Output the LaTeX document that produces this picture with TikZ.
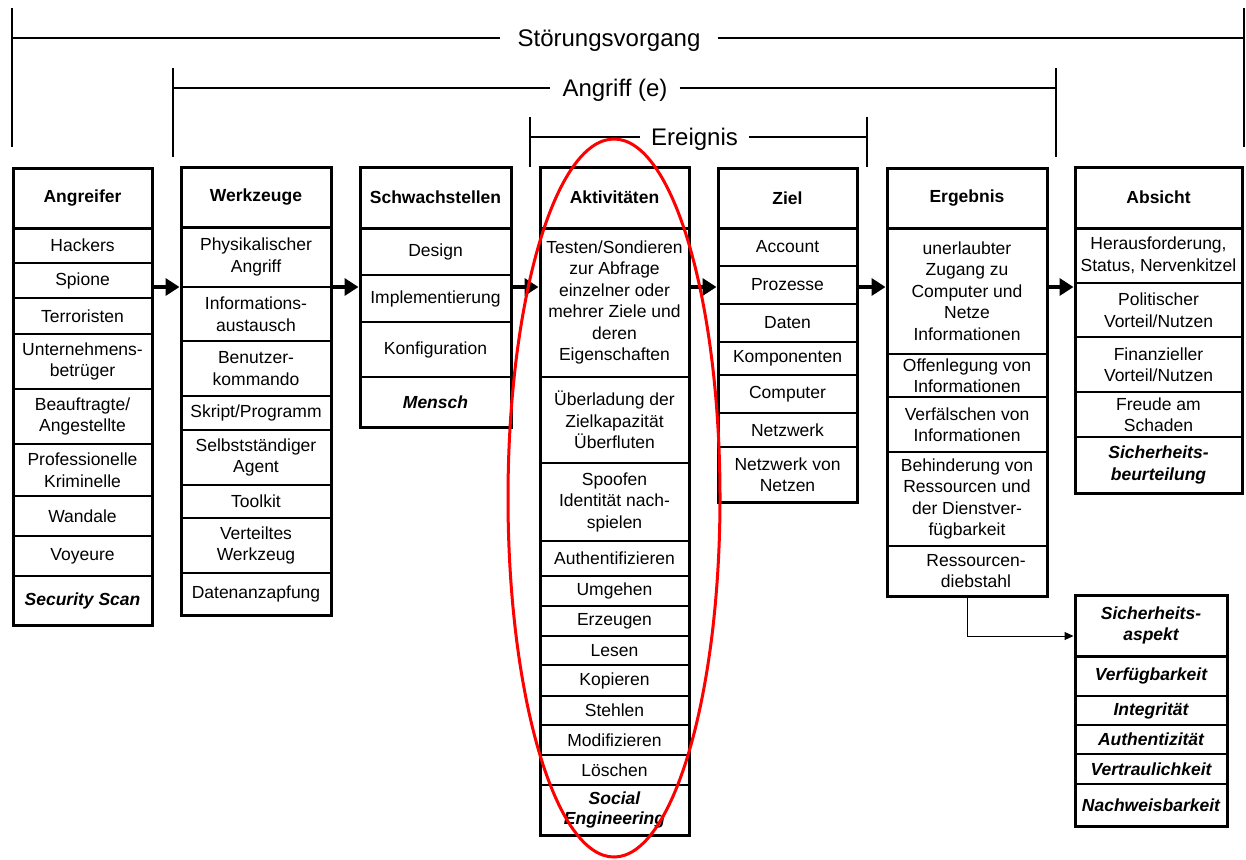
\documentclass[tikz,border=0pt]{standalone}
\usepackage{fontspec}
\setmainfont{Liberation Sans}
\usetikzlibrary{arrows.meta}
\tikzset{
  cellbox/.style={draw, line width=1.5pt, inner xsep=1pt, inner ysep=0pt, align=center,
    font=\fontsize{17.5pt}{21.5pt}\selectfont},
  headbox/.style={cellbox, line width=3pt, font=\fontsize{17.5pt}{21.5pt}\selectfont\bfseries},
  bibox/.style={cellbox, font=\fontsize{17.5pt}{21.5pt}\selectfont\bfseries\itshape},
  biheadbox/.style={headbox, font=\fontsize{17.5pt}{21.5pt}\selectfont\bfseries\itshape},
  colframe/.style={draw, line width=3pt, inner sep=0pt},
  bigarrow/.style={line width=4pt, -{Triangle[length=14pt,width=17pt]}},
  smallarrow/.style={line width=1pt, -{Triangle[length=9pt,width=8pt]}},
  bracketline/.style={line width=1.2pt},
  toplabel/.style={inner ysep=0pt, anchor=base, font=\fontsize{24pt}{28pt}\selectfont},
}
% style, name, width, x-center, top, bottom, text
\newcommand{\mkcell}[7]{\node[#1, minimum width=#3pt, minimum height={(#6-#5)*1pt}] (#2) at (#4,{(#5+#6)/2}) {#7};}
\newcommand{\mkframe}[5]{\node[colframe, minimum width=#2pt, minimum height={(#5-#4)*1pt}] (#1) at (#3,{(#4+#5)/2}) {};}
\begin{document}
\begin{tikzpicture}[x=1pt,y=-1pt]
\useasboundingbox (0,0) rectangle (1246,859);

% ---------- top brackets ----------
\node[toplabel, inner xsep=17pt] (stoer) at (609,46.5) {Störungsvorgang};
\coordinate (stL) at (12,38); \coordinate (stR) at (1244,38);
\coordinate (stLt) at (12,8); \coordinate (stLb) at (12,147);
\coordinate (stRt) at (1244,8); \coordinate (stRb) at (1244,147);
\draw[bracketline] (stL) -- (stoer.west |- stL);
\draw[bracketline] (stoer.east |- stR) -- (stR);
\draw[bracketline] (stLt) -- (stLb);
\draw[bracketline] (stRt) -- (stRb);

\node[toplabel, inner xsep=12pt] (angr) at (615,96.5) {Angriff (e)};
\coordinate (anL) at (173,88); \coordinate (anR) at (1056,88);
\coordinate (anLt) at (173,68); \coordinate (anLb) at (173,157);
\coordinate (anRt) at (1056,68); \coordinate (anRb) at (1056,157);
\draw[bracketline] (anL) -- (angr.west |- anL);
\draw[bracketline] (angr.east |- anR) -- (anR);
\draw[bracketline] (anLt) -- (anLb);
\draw[bracketline] (anRt) -- (anRb);

\node[toplabel, inner xsep=11pt] (ereig) at (694.5,145.5) {Ereignis};
\coordinate (erL) at (530,137); \coordinate (erR) at (867,137);
\coordinate (erLt) at (530,117); \coordinate (erLb) at (530,167);
\coordinate (erRt) at (867,117); \coordinate (erRb) at (867,167);
\draw[bracketline] (erL) -- (ereig.west |- erL);
\draw[bracketline] (ereig.east |- erR) -- (erR);
\draw[bracketline] (erLt) -- (erLb);
\draw[bracketline] (erRt) -- (erRb);

% ---------- Angreifer ----------
\mkcell{headbox}{a0}{139}{82.5}{168}{228}{Angreifer}
\mkcell{cellbox}{a1}{139}{82.5}{228}{263}{Hackers}
\mkcell{cellbox}{a2}{139}{82.5}{263}{298}{Spione}
\mkcell{cellbox}{a3}{139}{82.5}{298}{334}{Terroristen}
\mkcell{cellbox}{a4}{139}{82.5}{334}{389}{Unternehmens-\\betrüger}
\mkcell{cellbox}{a5}{139}{82.5}{389}{444}{Beauftragte/\\Angestellte}
\mkcell{cellbox}{a6}{139}{82.5}{444}{496}{Professionelle\\Kriminelle}
\mkcell{cellbox}{a7}{139}{82.5}{496}{536}{Wandale}
\mkcell{cellbox}{a8}{139}{82.5}{536}{576}{Voyeure}
\mkcell{bibox}{a9}{139}{82.5}{576}{625}{Security Scan}
\mkframe{colA}{139}{82.5}{168}{625}

% ---------- Werkzeuge ----------
\mkcell{headbox}{b0}{150}{256}{167}{227}{Werkzeuge}
\mkcell{cellbox}{b1}{150}{256}{227}{287}{Physikalischer\\Angriff}
\mkcell{cellbox}{b2}{150}{256}{287}{341}{Informations-\\austausch}
\mkcell{cellbox}{b3}{150}{256}{341}{396}{Benutzer-\\kommando}
\mkcell{cellbox}{b4}{150}{256}{396}{430}{Skript/Programm}
\mkcell{cellbox}{b5}{150}{256}{430}{485}{Selbstständiger\\Agent}
\mkcell{cellbox}{b6}{150}{256}{485}{518}{Toolkit}
\mkcell{cellbox}{b7}{150}{256}{518}{573}{Verteiltes\\Werkzeug}
\mkcell{cellbox}{b8}{150}{256}{573}{615}{Datenanzapfung}
\mkframe{colB}{150}{256}{167}{615}

% ---------- Schwachstellen ----------
\mkcell{headbox}{c0}{151}{435.5}{167}{228}{Schwachstellen}
\mkcell{cellbox}{c1}{151}{435.5}{228}{275}{Design}
\mkcell{cellbox}{c2}{151}{435.5}{275}{322}{Implementierung}
\mkcell{cellbox}{c3}{151}{435.5}{322}{377}{Konfiguration}
\mkcell{bibox}{c4}{151}{435.5}{377}{427}{Mensch}
\mkframe{colC}{151}{435.5}{167}{427}

% ---------- Aktivitäten ----------
\mkcell{headbox}{d0}{149}{614.5}{167}{228}{Aktivitäten}
\mkcell{cellbox}{d1}{149}{614.5}{228}{377}{Testen/Sondieren\\zur Abfrage\\einzelner oder\\mehrer Ziele und\\deren\\Eigenschaften}
\mkcell{cellbox}{d2}{149}{614.5}{377}{463}{Überladung der\\Zielkapazität\\Überfluten}
\mkcell{cellbox}{d3}{149}{614.5}{463}{541}{Spoofen\\Identität nach-\\spielen}
\mkcell{cellbox}{d4}{149}{614.5}{541}{576}{Authentifizieren}
\mkcell{cellbox}{d5}{149}{614.5}{576}{606}{Umgehen}
\mkcell{cellbox}{d6}{149}{614.5}{606}{636}{Erzeugen}
\mkcell{cellbox}{d7}{149}{614.5}{636}{665}{Lesen}
\mkcell{cellbox}{d8}{149}{614.5}{665}{696}{Kopieren}
\mkcell{cellbox}{d9}{149}{614.5}{696}{725}{Stehlen}
\mkcell{cellbox}{d10}{149}{614.5}{725}{755}{Modifizieren}
\mkcell{cellbox}{d11}{149}{614.5}{755}{785}{Löschen}
\mkcell{bibox}{d12}{149}{614.5}{785}{835}{Social\\[-1.5pt]Engineering}
\mkframe{colD}{149}{614.5}{167}{835}

% ---------- Ziel ----------
\mkcell{headbox}{e0}{139}{787.5}{168}{228}{Ziel}
\mkcell{cellbox}{e1}{139}{787.5}{228}{266}{Account}
\mkcell{cellbox}{e2}{139}{787.5}{266}{304}{Prozesse}
\mkcell{cellbox}{e3}{139}{787.5}{304}{342}{Daten}
\mkcell{cellbox}{e4}{139}{787.5}{342}{375}{Komponenten}
\mkcell{cellbox}{e5}{139}{787.5}{375}{413}{Computer}
\mkcell{cellbox}{e6}{139}{787.5}{413}{447}{Netzwerk}
\mkcell{cellbox}{e7}{139}{787.5}{447}{502}{Netzwerk von\\Netzen}
\mkframe{colE}{139}{787.5}{168}{502}

% ---------- Ergebnis ----------
\mkcell{headbox}{f0}{160}{967}{168}{228}{Ergebnis}
\mkcell{cellbox}{f1}{160}{967}{228}{354}{unerlaubter\\Zugang zu\\Computer und\\Netze\\Informationen}
\mkcell{cellbox}{f2}{160}{967}{354}{397}{Offenlegung von\\Informationen}
\mkcell{cellbox}{f3}{160}{967}{397}{452}{Verfälschen von\\Informationen}
\mkcell{cellbox}{f4}{160}{967}{452}{546}{Behinderung von\\Ressourcen und\\der Dienstver-\\fügbarkeit}
\mkcell{cellbox}{f5}{160}{967}{546}{596}{\hspace*{18pt}Ressourcen-\\\hspace*{18pt}diebstahl}
\mkframe{colF}{160}{967}{168}{596}

% ---------- Absicht ----------
\mkcell{headbox}{g0}{167}{1158.5}{167}{228}{Absicht}
\mkcell{cellbox}{g1}{167}{1158.5}{228}{283}{Herausforderung,\\Status, Nervenkitzel}
\mkcell{cellbox}{g2}{167}{1158.5}{283}{337}{Politischer\\Vorteil/Nutzen}
\mkcell{cellbox}{g3}{167}{1158.5}{337}{392}{Finanzieller\\Vorteil/Nutzen}
\mkcell{cellbox}{g4}{167}{1158.5}{392}{437}{Freude am\\Schaden}
\mkcell{bibox}{g5}{167}{1158.5}{437}{493}{Sicherheits-\\beurteilung}
\mkframe{colG}{167}{1158.5}{167}{493}

% ---------- Sicherheitsaspekt ----------
\mkcell{biheadbox}{h0}{152}{1151}{595}{656}{Sicherheits-\\aspekt}
\mkcell{bibox}{h1}{152}{1151}{656}{696}{Verfügbarkeit}
\mkcell{bibox}{h2}{152}{1151}{696}{725}{Integrität}
\mkcell{bibox}{h3}{152}{1151}{725}{754}{Authentizität}
\mkcell{bibox}{h4}{152}{1151}{754}{784}{Vertraulichkeit}
\mkcell{bibox}{h5}{152}{1151}{784}{826}{Nachweisbarkeit}
\mkframe{colH}{152}{1151}{595}{826}

% ---------- arrows ----------
\coordinate (ay) at (0,287);
\draw[bigarrow] (colA.east |- ay) -- (colB.west |- ay);
\draw[bigarrow] (colB.east |- ay) -- (colC.west |- ay);
\draw[bigarrow] (colC.east |- ay) -- (colD.west |- ay);
\draw[bigarrow] (colD.east |- ay) -- (colE.west |- ay);
\draw[bigarrow] (colE.east |- ay) -- (colF.west |- ay);
\draw[bigarrow] (colF.east |- ay) -- (colG.west |- ay);

\coordinate (sy) at (0,636);
\draw[smallarrow] (colF.south) |- (colH.west |- sy);

% ---------- red ellipse ----------
\draw[red, line width=3pt] (614,498) ellipse [x radius=106pt, y radius=359pt];
\end{tikzpicture}
\end{document}
